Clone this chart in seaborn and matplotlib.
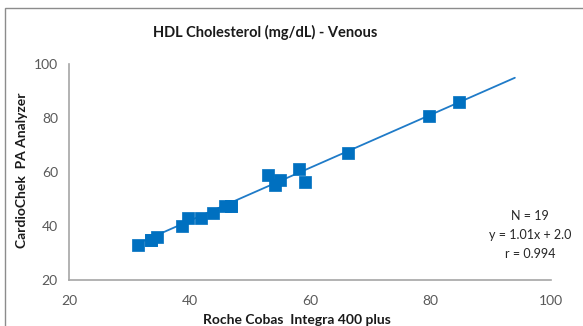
import matplotlib
matplotlib.use("Agg")
import matplotlib.pyplot as plt
import pandas as pd
import seaborn as sns
from matplotlib.patches import Rectangle

# readings (two points are hidden under others)
roche = [31.4, 33.6, 34.6, 38.7, 39.7, 41.9, 43.9, 45.9, 46.9, 46.9,
         53.0, 54.2, 55.0, 58.1, 59.1, 66.3, 79.7, 84.8, 33.6]
cardiochek = [33.0, 34.8, 35.9, 40.0, 43.0, 43.0, 44.8, 47.4, 47.4, 47.4,
              58.9, 55.2, 57.0, 61.1, 56.3, 67.0, 80.7, 85.9, 34.8]
# trendline ends as drawn in the reference
trend_x = [31.4, 94.0]
trend_y = [33.5, 94.9]
stats_text = "N = 19\ny = 1.01x + 2.0\nr = 0.994"
xticks = [20, 40, 60, 80, 100]
yticks = [20, 40, 60, 80, 100]

df = pd.DataFrame({"roche": roche, "cardiochek": cardiochek})
trend = pd.DataFrame({"x": trend_x, "y": trend_y})

sns.set_theme(style="white")
plt.rcParams["font.family"] = ["Lato", "DejaVu Sans"]

blue = "#0070C0"
fig = plt.figure(figsize=(5.83, 3.26), dpi=100)
ax = fig.add_axes([69 / 583, 1 - 280 / 326, (551 - 69) / 583, (280 - 64) / 326])

sns.lineplot(data=trend, x="x", y="y", ax=ax, color="#1F7BC8", linewidth=1.3, zorder=2)
sns.scatterplot(data=df, x="roche", y="cardiochek", ax=ax, marker="s", s=70,
                color=blue, edgecolor=blue, linewidth=0.5, zorder=3)

ax.set_xlim(20, 100)
ax.set_ylim(20, 100)
ax.set_xticks(xticks)
ax.set_yticks(yticks)
ax.tick_params(axis="both", length=0, labelsize=10, colors="#595959", pad=8)
ax.tick_params(axis="x", pad=11)
for side in ["top", "right"]:
    ax.spines[side].set_visible(False)
for side in ["left", "bottom"]:
    ax.spines[side].set_color("#A6A6A6")
    ax.spines[side].set_linewidth(1.2)
ax.set_xlabel("")
ax.set_ylabel("")

fig.text(297 / 583, 1 - 320 / 326, "Roche Cobas  Integra 400 plus", ha="center", va="center",
         fontsize=10, fontweight="bold", color="#1a1a1a")
fig.text(22 / 583, 1 - 170 / 326, "CardioChek  PA Analyzer", ha="center", va="center",
         rotation=90, fontsize=10, fontweight="bold", color="#1a1a1a")
fig.text(265 / 583, 1 - 32 / 326, "HDL Cholesterol (mg/dL) - Venous", ha="center", va="center",
         fontsize=10.5, fontweight="bold", color="#1a1a1a")
ax.text((530 - 69) / 482, (280 - 235) / 216, stats_text, transform=ax.transAxes,
        ha="center", va="center", fontsize=9, color="#262626", linespacing=1.75)

fig.patches.append(Rectangle((5 / 583, -0.1), 1.2, 1 - 8 / 326 + 0.1, transform=fig.transFigure,
                             fill=False, edgecolor="#8C8C8C", linewidth=1.0))

fig.savefig("out.png", dpi=100)
